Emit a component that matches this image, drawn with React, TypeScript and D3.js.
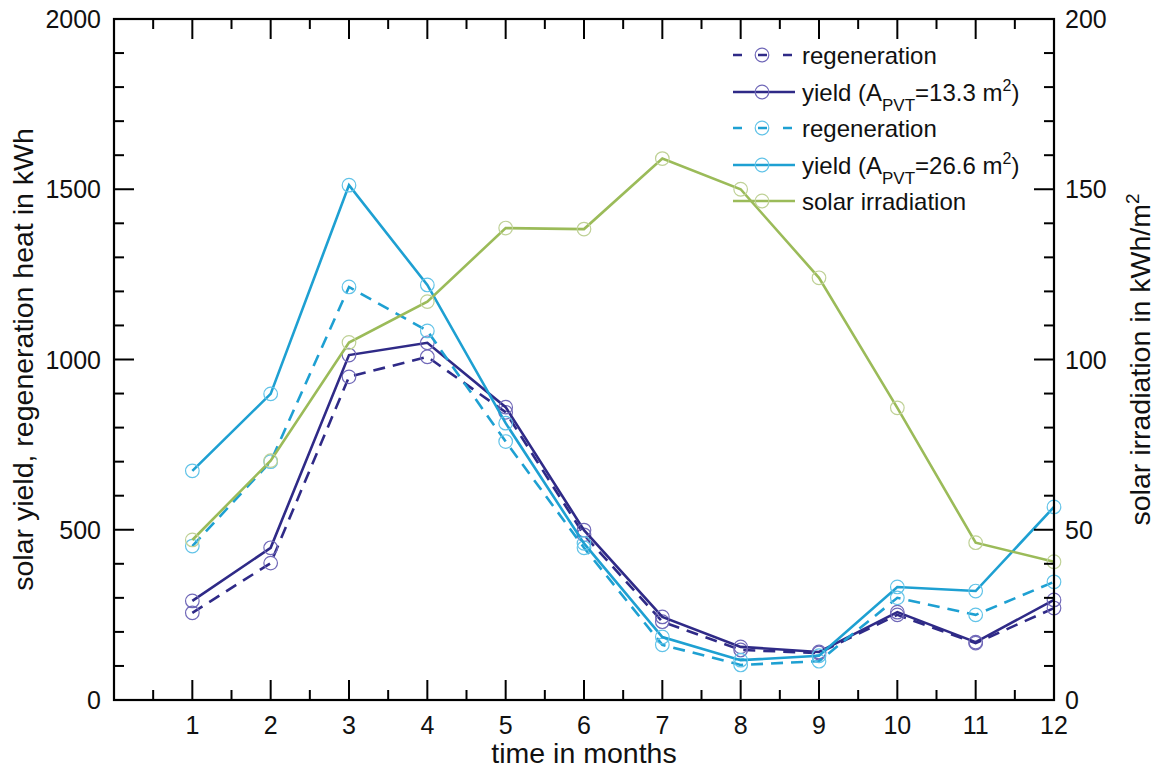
import React from "react";
import * as d3 from "d3";

const months = [1, 2, 3, 4, 5, 6, 7, 8, 9, 10, 11, 12];
const regen133 = [256, 402, 949, 1008, 845, 485, 230, 147, 138, 250, 167, 270];
const yield133 = [291, 447, 1013, 1049, 860, 499, 244, 156, 141, 258, 170, 294];
const regen266 = [452, 700, 1213, 1084, 759, 447, 162, 103, 114, 300, 250, 347];
const yield266 = [673, 899, 1512, 1219, 813, 460, 185, 117, 130, 332, 320, 567];
const solar = [47, 70.3, 105, 117, 138.6, 138.3, 159, 150, 124, 85.8, 46.2, 40.6];
const leftTicks = [0, 500, 1000, 1500, 2000];
const rightTicks = [0, 50, 100, 150, 200];

const W = 1159, H = 771;
const L = 114, R = 1054, T = 19, B = 700;
const FONT = "'Liberation Sans', Arial, Helvetica, sans-serif";

const x = d3.scaleLinear().domain([0, 12]).range([L, R]);
const yL = d3.scaleLinear().domain([0, 2000]).range([B, T]);
const yR = d3.scaleLinear().domain([0, 200]).range([B, T]);

const DARK = "#2f2a87", DARK_M = "#7068b8";
const BLUE = "#1ea0d2", BLUE_M = "#62c3e8";
const GREEN = "#9bbb59", GREEN_M = "#bfd196";

type S = { vals: number[]; scale: any; color: string; mcolor: string; dash?: string };
const series: S[] = [
  { vals: regen133, scale: yL, color: DARK, mcolor: DARK_M, dash: "12,8" },
  { vals: yield133, scale: yL, color: DARK, mcolor: DARK_M },
  { vals: regen266, scale: yL, color: BLUE, mcolor: BLUE_M, dash: "12,8" },
  { vals: yield266, scale: yL, color: BLUE, mcolor: BLUE_M },
  { vals: solar, scale: yR, color: GREEN, mcolor: GREEN_M },
];

export default function App() {
  const xMinor = d3.range(1, 24).map((d) => d / 2);
  const yMinor = d3.range(1, 20).map((d) => d * 100);
  const yRMinor = d3.range(1, 20).map((d) => d * 10);
  const legendRows = [
    { s: series[0], label: <tspan>regeneration</tspan> },
    {
      s: series[1],
      label: (
        <>
          <tspan>yield (A</tspan>
          <tspan fontSize={17} dy={10}>PVT</tspan>
          <tspan dy={-10}>=13.3 m</tspan>
          <tspan fontSize={16} dy={-10}>2</tspan>
          <tspan dy={10}>)</tspan>
        </>
      ),
    },
    { s: series[2], label: <tspan>regeneration</tspan> },
    {
      s: series[3],
      label: (
        <>
          <tspan>yield (A</tspan>
          <tspan fontSize={17} dy={10}>PVT</tspan>
          <tspan dy={-10}>=26.6 m</tspan>
          <tspan fontSize={16} dy={-10}>2</tspan>
          <tspan dy={10}>)</tspan>
        </>
      ),
    },
    { s: series[4], label: <tspan>solar irradiation</tspan> },
  ];
  const legY = [55, 92, 128, 165, 201];
  return (
    <svg width={W} height={H} style={{ position: "absolute", left: 0, top: 0, background: "#fff" }} fontFamily={FONT}>
      <rect width={W} height={H} fill="#fff" />
      {/* data */}
      {series.map((s, i) => {
        const line = d3.line<number>().x((_, j) => x(months[j])).y((v) => s.scale(v));
        return (
          <g key={i}>
            <path d={line(s.vals) || ""} fill="none" stroke={s.color} strokeWidth={2.6} strokeDasharray={s.dash} />
            {s.vals.map((v, j) => (
              <circle key={j} cx={x(months[j])} cy={s.scale(v)} r={6.8} fill="none" stroke={s.mcolor} strokeWidth={1.2} />
            ))}
          </g>
        );
      })}
      {/* legend */}
      {legendRows.map((r, i) => (
        <g key={i}>
          <line x1={733} x2={795} y1={legY[i]} y2={legY[i]} stroke={r.s.color} strokeWidth={2.6} strokeDasharray={r.s.dash ? "9,16" : undefined} />
          <circle cx={762} cy={legY[i]} r={6.8} fill="none" stroke={r.s.mcolor} strokeWidth={1.2} />
          <text x={802} y={legY[i] + 9} fontSize={24} fill="#111">{r.label}</text>
        </g>
      ))}
      {/* frame */}
      <rect x={L} y={T} width={R - L} height={B - T} fill="none" stroke="#000" strokeWidth={2.2} />
      {/* x ticks bottom/top */}
      {xMinor.map((m) => {
        const len = Number.isInteger(m) ? 20 : 10;
        return (
          <g key={m} stroke="#000" strokeWidth={2}>
            <line x1={x(m)} x2={x(m)} y1={B} y2={B - len} />
            <line x1={x(m)} x2={x(m)} y1={T} y2={T + len} />
          </g>
        );
      })}
      {yMinor.map((v) => {
        const len = v % 500 === 0 ? 20 : 10;
        return <line key={v} x1={L} x2={L + len} y1={yL(v)} y2={yL(v)} stroke="#000" strokeWidth={2} />;
      })}
      {yRMinor.map((v) => {
        const len = v % 50 === 0 ? 20 : 10;
        return <line key={v} x1={R} x2={R - len} y1={yR(v)} y2={yR(v)} stroke="#000" strokeWidth={2} />;
      })}
      {/* tick labels */}
      {months.map((m) => (
        <text key={m} x={x(m)} y={734} fontSize={25} textAnchor="middle" fill="#111">{m}</text>
      ))}
      {leftTicks.map((v) => (
        <text key={v} x={101} y={yL(v) + 9} fontSize={25} textAnchor="end" fill="#111">{v}</text>
      ))}
      {rightTicks.map((v) => (
        <text key={v} x={1065} y={yR(v) + 9} fontSize={25} textAnchor="start" fill="#111">{v}</text>
      ))}
      {/* axis titles */}
      <text x={(L + R) / 2} y={763} fontSize={28.5} textAnchor="middle" fill="#111">time in months</text>
      <text transform={`translate(33,${(T + B) / 2}) rotate(-90)`} fontSize={28.5} textAnchor="middle" fill="#111">
        solar yield, regeneration heat in kWh
      </text>
      <text transform={`translate(1150,${(T + B) / 2}) rotate(-90)`} fontSize={28.5} textAnchor="middle" fill="#111">
        <tspan>solar irradiation in kWh/m</tspan>
        <tspan fontSize={19} dy={-11}>2</tspan>
      </text>
    </svg>
  );
}
